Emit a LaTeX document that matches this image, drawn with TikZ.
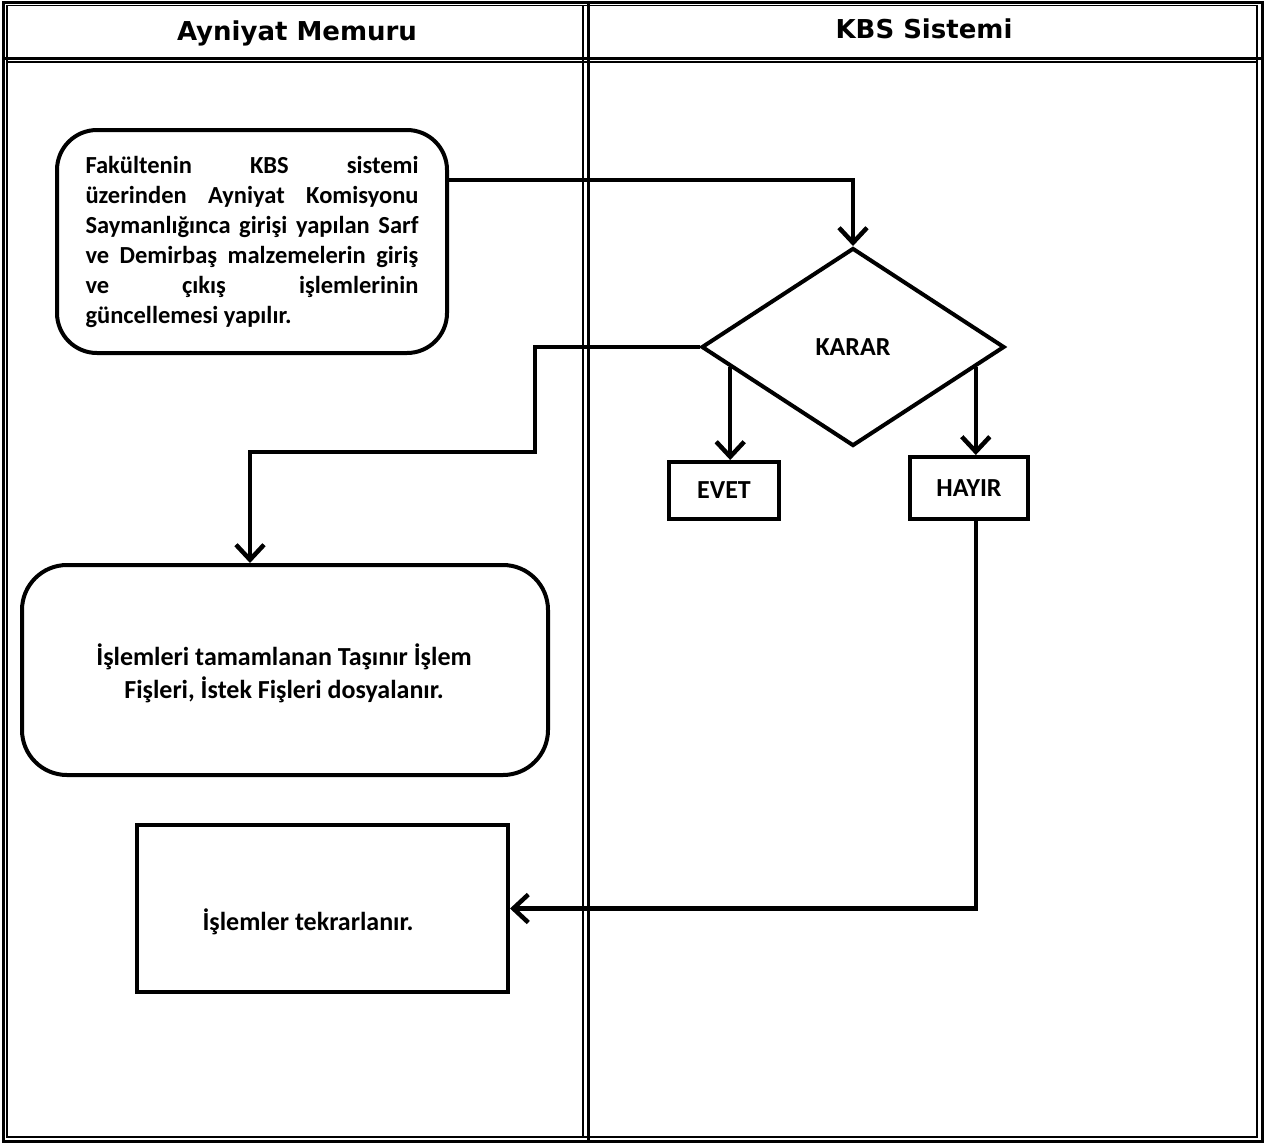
\documentclass[tikz,border=0pt]{standalone}
\usepackage{fontspec}
\setmainfont{Carlito}
\newfontfamily\bodyB{Carlito}[UprightFont={* Bold}]
\newfontfamily\hdrB{DejaVu Sans}[UprightFont={* Bold}]
\usetikzlibrary{arrows.meta,shapes.geometric,calc}
\newlength\jw
\setlength\jw{333pt}
\newcommand\jl[1]{\hbox to \jw{#1}}
\begin{document}
\begin{tikzpicture}[x=1pt,y=-1pt,
  thickrule/.style={line width=3pt},
  thinrule/.style={line width=1.2pt},
  flow/.style={line width=4.5pt},
  arr/.style={flow,-{Straight Barb[length=15pt,width=28pt]}},
  rbox/.style={draw,line width=4pt,rounded corners=40pt,inner sep=0pt},
  sbox/.style={draw,line width=4pt,inner sep=0pt},
  hdr/.style={font=\hdrB\fontsize{26}{30}\selectfont},
  body/.style={font=\bodyB\fontsize{26}{33}\selectfont},
  bodyA/.style={font=\bodyB\fontsize{24.5}{30}\selectfont}
]
\useasboundingbox (0,0) rectangle (1266,1144);
% table frame
\draw[thickrule] (3,2) rectangle (1262,1141);
\draw[thinrule] (7,5.5) rectangle (1257,1137);
\draw[thickrule] (3,58) -- (1262,58);
\draw[thinrule] (7,62) -- (1257,62);
\draw[thinrule] (583,5.5) -- (583,1137);
\draw[thickrule] (588.5,2) -- (588.5,1141);
% headers
\node[hdr] (h1) at (297,33) {Ayniyat Memuru};
\node[hdr] (h2) at (924,29) {KBS Sistemi};
% box 1
\node[rbox,minimum width=390pt,minimum height=223pt,bodyA] (b1) at (252,241.5) {%
\parbox{\jw}{%
\jl{Fakültenin\hfill KBS\hfill sistemi}
\jl{üzerinden\hfill Ayniyat\hfill Komisyonu}
\jl{Saymanlığınca\hfill girişi\hfill yapılan\hfill Sarf}
\jl{ve\hfill Demirbaş\hfill malzemelerin\hfill giriş}
\jl{ve\hfill çıkış\hfill işlemlerinin}
\hbox{güncellemesi yapılır.}}};
% diamond
\node[draw,diamond,line width=4pt,inner sep=0pt,minimum width=303pt,minimum height=198pt,body] (kar) at (853,347) {KARAR};
% EVET / HAYIR
\node[sbox,minimum width=110pt,minimum height=57pt,body] (evet) at (724,490.5) {EVET};
\node[sbox,minimum width=118pt,minimum height=62pt,body] (hay) at (969,488) {HAYIR};
% box 2
\node[rbox,rounded corners=45pt,minimum width=526pt,minimum height=210pt] (b2) at (285,670) {};
\node[body,align=center] (t2) at (284,673) {İşlemleri tamamlanan Taşınır İşlem\\Fişleri, İstek Fişleri dosyalanır.};
% box 3
\node[sbox,minimum width=371pt,minimum height=167pt] (b3) at (322.5,908.5) {};
\node[body] (t3) at (308,922) {İşlemler tekrarlanır.};
% connectors
\coordinate (p1) at ($(kar.west)!0.2!(kar.south)$);
\coordinate (p2) at ($(kar.east)!0.2!(kar.south)$);
\coordinate (k1) at (535,452);
\draw[arr] ([yshift=61.5pt]b1.east) -| (kar.north);
\draw[arr] (kar.west) -| (k1) -| ([xshift=-35pt]b2.north);
\draw[arr] (p1) -- (p1 |- evet.north);
\draw[arr] (p2) -- (p2 |- hay.north);
\draw[arr] (p2 |- hay.south) |- (b3.east);
\end{tikzpicture}
\end{document}
